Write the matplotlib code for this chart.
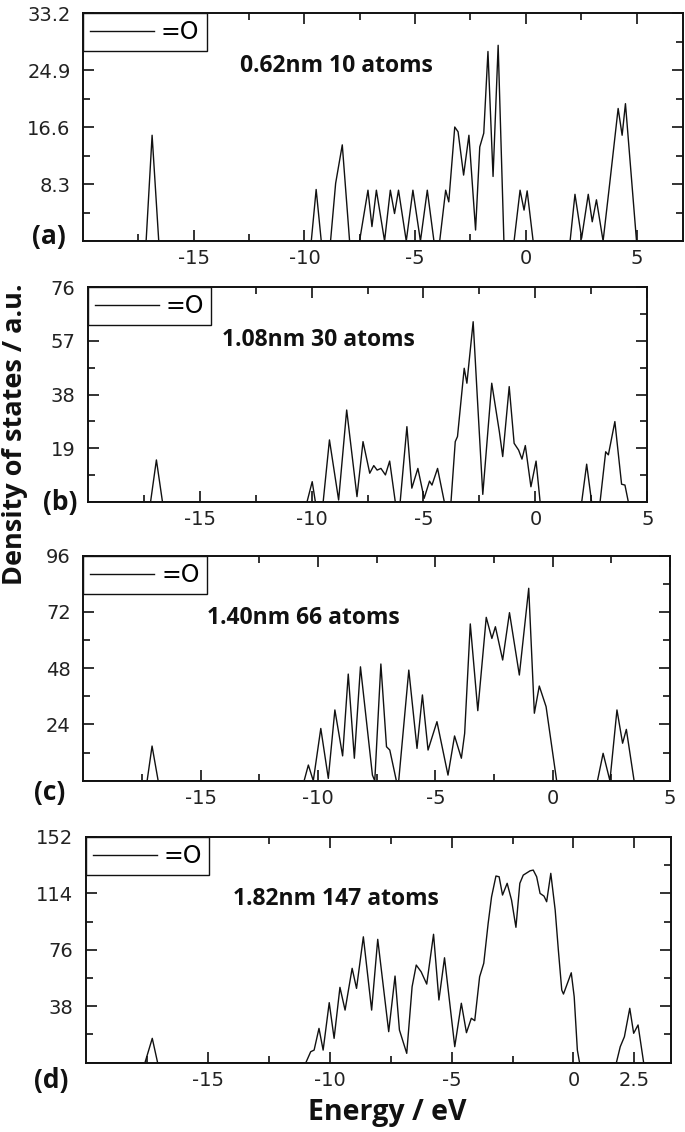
import matplotlib
matplotlib.use("Agg")
import matplotlib.pyplot as plt
from matplotlib.ticker import FixedLocator

plt.rcParams['font.family'] = ['DejaVu Sans']

######### data (energy in eV, DOS in a.u.)
e_a = [-20, -17.15, -16.88, -16.58, -9.69, -9.47, -9.24, -8.82, -8.59, -8.29, -7.96,
       -7.51, -7.13, -6.95, -6.75, -6.38, -6.12, -5.93, -5.75, -5.40, -5.10, -4.76,
       -4.45, -4.15, -3.89, -3.62, -3.48, -3.21, -3.06, -2.81, -2.57, -2.27, -2.08,
       -1.90, -1.71, -1.48, -1.25, -0.99, -0.53, -0.26, -0.08, 0.06, 0.33, 2.0, 2.22,
       2.52, 2.82, 3.0, 3.19, 3.49, 3.79, 4.17, 4.35, 4.50, 5.0, 7.1]
dos_a = [0, 0, 15.4, 0, 0, 7.5, 0, 0, 8.4, 14.0, 0,
         0, 7.4, 2.1, 7.4, 0, 7.4, 4.0, 7.4, 0, 7.4, 0,
         7.4, 0, 0, 7.4, 5.7, 16.6, 15.9, 9.6, 15.4, 1.6, 13.7,
         15.7, 27.6, 9.4, 28.5, 0, 0, 7.4, 4.5, 7.3, 0, 0, 6.8,
         0.4, 6.8, 2.8, 6.0, 0, 8.4, 19.3, 15.4, 20.0, 0, 0]

e_b = [-20, -17.19, -16.93, -16.66, -10.2, -9.97, -9.83, -9.48, -9.20, -8.79, -8.43,
       -7.97, -7.70, -7.40, -7.22, -7.07, -6.90, -6.70, -6.51, -6.26, -6.04, -5.74,
       -5.52, -5.25, -4.97, -4.73, -4.62, -4.37, -4.07, -3.77, -3.58, -3.48, -3.18,
       -3.06, -2.78, -2.60, -2.35, -1.95, -1.61, -1.46, -1.17, -0.95, -0.75, -0.60,
       -0.45, -0.20, 0.03, 0.21, 2.07, 2.29, 2.51, 2.89, 3.14, 3.26, 3.55, 3.85, 4.0,
       4.15, 5.0]
dos_b = [0, 0, 14.8, 0, 0, 7.1, 0, 0, 21.9, 0.6, 32.5,
         1.8, 21.3, 10.1, 12.8, 11.2, 11.8, 9.5, 14.4, 0, 0, 26.6,
         4.8, 11.8, 1.2, 7.3, 5.9, 11.8, 0, 0, 21.3, 23.1, 47.3,
         42.0, 63.8, 37.8, 2.6, 42.0, 24.8, 16.0, 40.8, 20.7, 18.3, 15.1,
         19.9, 5.3, 14.4, 0, 0, 13.3, 0, 0, 17.7, 16.6, 28.4, 6.2, 5.9,
         0, 0]

e_c = [-20, -17.28, -17.07, -16.81, -10.59, -10.41, -10.2, -9.88, -9.56, -9.28, -8.95,
       -8.71, -8.45, -8.19, -7.68, -7.58, -7.32, -7.08, -6.94, -6.66, -6.56, -6.13,
       -5.78, -5.55, -5.31, -4.93, -4.46, -4.18, -3.89, -3.75, -3.51, -3.19, -2.83,
       -2.59, -2.44, -2.13, -1.84, -1.42, -1.02, -0.78, -0.57, -0.28, 0.17, 1.91,
       2.15, 2.44, 2.74, 2.98, 3.14, 3.47, 5.0]
dos_c = [0, 0, 14.8, 0, 0, 6.7, 0, 22.3, 1.0, 30.2, 10.6,
         45.5, 9.6, 48.6, 2.4, 0, 49.8, 14.5, 13.1, 0, 0, 47.2,
         13.8, 36.6, 13.1, 25.2, 2.4, 19.1, 9.6, 20.2, 66.9, 29.9, 69.7,
         60.7, 65.7, 51.5, 71.7, 45.1, 82.1, 28.8, 40.4, 31.6, 0, 0,
         11.7, 0, 30.2, 16.0, 21.9, 0, 0]

e_d = [-20, -17.58, -17.28, -17.06, -10.98, -10.78, -10.64, -10.44, -10.27, -10.02,
       -9.82, -9.58, -9.37, -9.08, -8.90, -8.62, -8.28, -8.03, -7.58, -7.32, -7.14,
       -6.84, -6.62, -6.45, -6.25, -6.02, -5.74, -5.52, -5.29, -4.87, -4.60, -4.39,
       -4.19, -4.05, -3.85, -3.68, -3.50, -3.36, -3.18, -3.05, -2.91, -2.72, -2.54,
       -2.36, -2.20, -2.06, -1.78, -1.65, -1.51, -1.37, -1.21, -1.10, -0.93, -0.75,
       -0.62, -0.48, -0.41, -0.09, 0.03, 0.16, 0.25, 1.76, 1.92, 2.09, 2.31, 2.47,
       2.65, 2.88, 4.0]
dos_d = [0, 0, 16.4, 0, 0, 7.4, 8.5, 23.1, 8.5, 40.4,
         16.4, 50.7, 35.4, 63.5, 50.0, 84.7, 35.4, 83.0, 20.9, 58.3, 22.0,
         6.3, 51.1, 65.7, 61.2, 52.9, 86.4, 42.2, 70.6, 10.8, 40.0, 20.2,
         29.9, 28.3, 57.8, 66.9, 93.7, 111.6, 125.6, 125.1, 112.8, 120.7, 109.4,
         91.1, 120.7, 126.2, 129.1, 129.6, 125.1, 113.9, 112.1, 108.3, 127.4, 102.7,
         75.8, 48.9, 46.2, 60.5, 44.4, 8.5, 0, 0, 10.8, 17.5, 36.6, 19.8,
         25.4, 0, 0]

yticks_a = [8.3, 16.6, 24.9, 33.2]
yticks_b = [19, 38, 57, 76]
yticks_c = [24, 48, 72, 96]
yticks_d = [38, 76, 114, 152]
xticks_a = [-15, -10, -5, 0, 5]
xticks_d = [-15, -10, -5, 0, 2.5]
labels = ['0.62nm 10 atoms', '1.08nm 30 atoms', '1.40nm 66 atoms', '1.82nm 147 atoms']
letters = ['(a)', '(b)', '(c)', '(d)']

# panel layout (left, bottom, width, height) in figure fraction, xlim, text pos
panels = [
    (e_a, dos_a, [0.1212, 0.7871, 0.8759, 0.2014], (-20, 7.1), yticks_a, xticks_a, (0.262, 0.768)),
    (e_b, dos_b, [0.128, 0.5568, 0.817, 0.1894], (-20, 5), yticks_b, xticks_a, (0.2395, 0.754)),
    (e_c, dos_c, [0.1216, 0.3103, 0.8565, 0.1988], (-20, 5), yticks_c, xticks_a, (0.21, 0.722)),
    (e_d, dos_d, [0.1255, 0.0612, 0.854, 0.1996], (-20, 4), yticks_d, xticks_d, (0.252, 0.723)),
]
letter_pos = [(0.0708, 0.7915), (0.0876, 0.5557), (0.073, 0.2995), (0.075, 0.0459)]

fig = plt.figure(figsize=(6.85, 11.32), dpi=100)

for i, (e, d, rect, xlim, yt, xt, tpos) in enumerate(panels):
    ax = fig.add_axes(rect)
    ax.plot(e, d, color='#111111', lw=1.0, label='=O')
    ax.set_xlim(*xlim)
    ax.set_ylim(0, yt[-1])
    ax.set_yticks(yt)
    ax.set_yticklabels([str(v) for v in yt])
    ax.yaxis.set_minor_locator(FixedLocator([v - yt[0] / 2 for v in yt]))
    ax.set_xticks(xt)
    ax.set_xticklabels([str(v) for v in xt])
    ax.xaxis.set_minor_locator(FixedLocator([-17.5, -12.5, -7.5, -2.5, 2.5] if i < 3 else [-17.5, -12.5, -7.5, -2.5]))
    ax.tick_params(which='both', direction='in', top=True, right=True, width=1.2, colors='#111111')
    ax.tick_params(which='major', length=8, labelsize=14, pad=6, labelcolor='#222222')
    ax.tick_params(which='minor', length=5)
    ax.tick_params(axis='y', which='major', pad=9)
    for s in ax.spines.values():
        s.set_linewidth(1.4)
        s.set_color('#111111')
    leg = ax.legend(loc='upper left', bbox_to_anchor=(0, 1), borderaxespad=0, fancybox=False,
                    edgecolor='#111111', framealpha=1, fontsize=17, handlelength=2.7,
                    handletextpad=0.3, borderpad=0.3)
    leg.get_frame().set_linewidth(1.0)
    ax.text(tpos[0], tpos[1], labels[i], transform=ax.transAxes, ha='left', va='center',
            fontsize=16.5, fontweight='bold', family='Open Sans', color='#111111')
    fig.text(letter_pos[i][0], letter_pos[i][1], letters[i], ha='center', va='center',
             fontsize=19, fontweight='bold', family='Open Sans', color='#111111')

fig.text(0.0226, 0.6166, 'Density of states / a.u.', rotation=90, ha='center', va='center',
         fontsize=19.5, fontweight='bold', family='Open Sans', color='#111111')
fig.text(0.566, 0.0168, 'Energy / eV', ha='center', va='center',
         fontsize=20.5, fontweight='bold', family='Open Sans', color='#111111')

fig.savefig('out.png', dpi=100)
